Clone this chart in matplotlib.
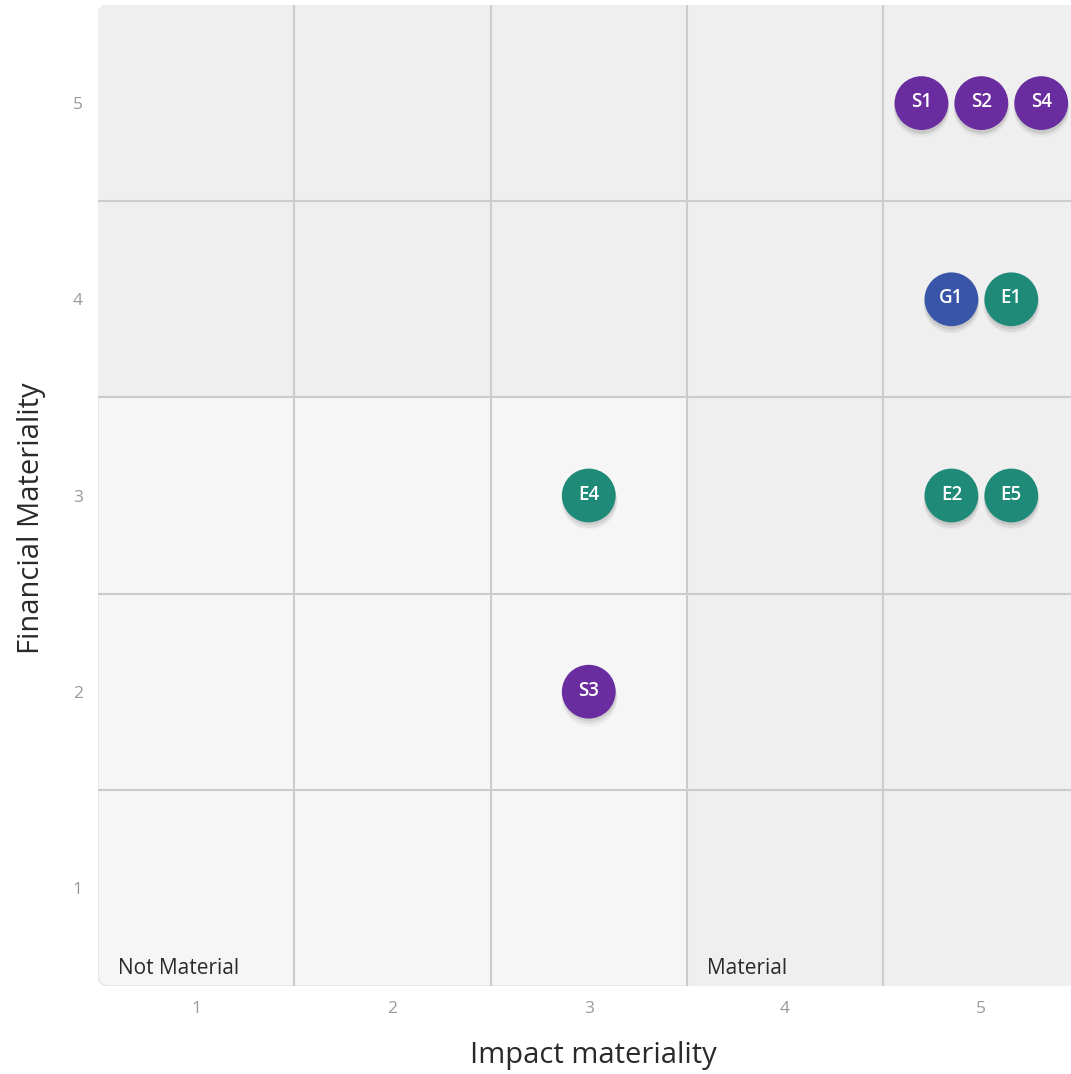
import matplotlib
matplotlib.use("Agg")
import matplotlib.pyplot as plt
from matplotlib.patches import FancyBboxPatch, Rectangle
import numpy as np

# Topics scored on impact and financial materiality (1-5)
topics = ["S1", "S2", "S4", "G1", "E1", "E2", "E5", "E4", "S3"]
impact = [5, 5, 5, 5, 5, 5, 5, 3, 3]
financial = [5, 5, 5, 4, 4, 3, 3, 3, 2]
pillars = ["S", "S", "S", "G", "E", "E", "E", "E", "S"]

x_ticks = [1, 2, 3, 4, 5]
y_ticks = [1, 2, 3, 4, 5]
x_label = "Impact materiality"
y_label = "Financial Materiality"
threshold = 3.5

pillar_colors = {"E": "#1f8a78", "S": "#6a2d9f", "G": "#3955a8"}

plt.rcParams["font.family"] = ["Open Sans", "DejaVu Sans"]

fig = plt.figure(figsize=(10.71, 10.74), dpi=100)
ax = fig.add_axes([98 / 1071, 88 / 1074, 981.5 / 1071, 981 / 1074])
ax.set_xlim(0.5, 5.5)
ax.set_ylim(0.5, 5.5)

# Rounded background card
card = FancyBboxPatch((0.5, 0.5), 5.0, 5.0, boxstyle="round,pad=0,rounding_size=0.06",
                      facecolor="#f6f6f6", edgecolor="#e4e4e4", linewidth=1.0,
                      transform=ax.transData, zorder=0, mutation_aspect=1)
ax.add_patch(card)

# Shade the material zone (either score above threshold)
shade = "#efefef"
ax.add_patch(Rectangle((threshold, 0.5), 5.5 - threshold, threshold - 0.5,
                       facecolor=shade, edgecolor="none", zorder=0.5))
ax.add_patch(Rectangle((0.5, threshold), 5.0, 5.5 - threshold - 0.02,
                       facecolor=shade, edgecolor="none", zorder=0.5))
ax.add_patch(FancyBboxPatch((0.5, threshold), 5.0, 5.5 - threshold,
                            boxstyle="round,pad=0,rounding_size=0.06",
                            facecolor=shade, edgecolor="none", zorder=0.5))

# Cell grid
for v in np.arange(1.5, 5.5, 1.0):
    ax.axvline(v, color="#cccccc", lw=1.5, zorder=1)
    ax.axhline(v, color="#cccccc", lw=1.5, zorder=1)

# Spread points that share a cell side by side
spacing = 0.305
cells = {}
for i, (xi, yi) in enumerate(zip(impact, financial)):
    cells.setdefault((xi, yi), []).append(i)
px = np.array(impact, dtype=float)
py = np.array(financial, dtype=float)
for members in cells.values():
    n = len(members)
    for k, idx in enumerate(members):
        px[idx] += (k - (n - 1) / 2) * spacing

size = 1500
# soft drop shadow
for dy, sc, a in [(0.03, 1.08, 0.035), (0.022, 1.04, 0.05), (0.014, 1.0, 0.08)]:
    ax.scatter(px, py - dy, s=size * sc, color="black", alpha=a,
               linewidths=0, zorder=2)
ax.scatter(px, py, s=size, c=[pillar_colors[p] for p in pillars],
           linewidths=0, zorder=3)
for xi, yi, t in zip(px, py, topics):
    ax.text(xi, yi + 0.005, t, color="white", fontsize=13.5, fontweight="semibold",
            ha="center", va="center", zorder=4)

# Zone captions
ax.text(0.602, 0.561, "Not Material", fontsize=15, color="#2a2a2a",
        ha="left", va="baseline", zorder=4)
ax.text(3.602, 0.561, "Material", fontsize=15, color="#2a2a2a",
        ha="left", va="baseline", zorder=4)

ax.set_xticks(x_ticks)
ax.set_yticks(y_ticks)
ax.tick_params(length=0, labelsize=12.5, labelcolor="#9a9a9a", pad=11)
for s in ax.spines.values():
    s.set_visible(False)
ax.set_xlabel(x_label, fontsize=21, color="#2a2a2a")
ax.set_ylabel(y_label, fontsize=21, color="#2a2a2a")
ax.xaxis.set_label_coords(0.5045, -0.056)
ax.yaxis.set_label_coords(-0.053, 0.477)

fig.savefig("out.png", dpi=100)
